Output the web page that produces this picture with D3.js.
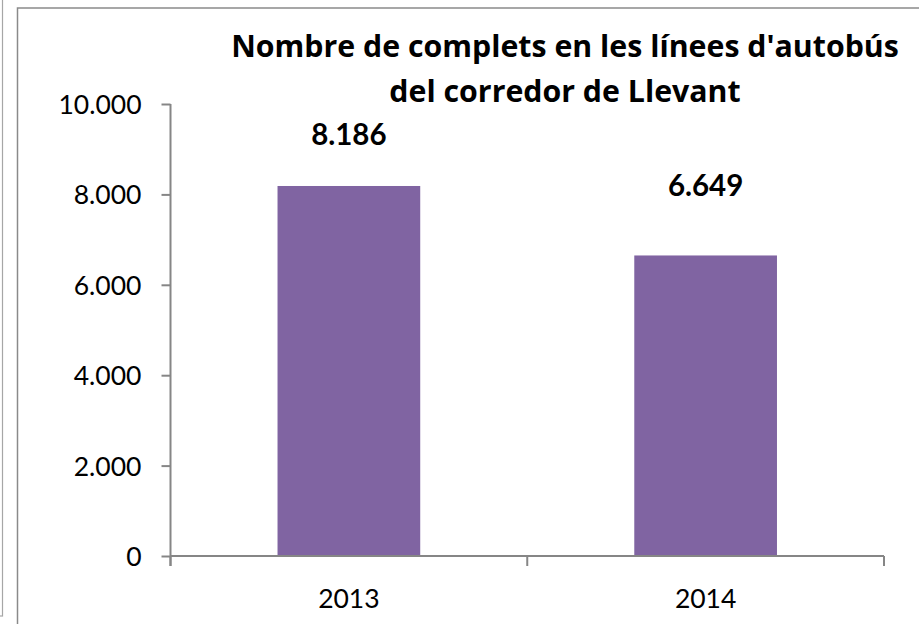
<!DOCTYPE html>
<html>
<head>
<meta charset="utf-8">
<script src="https://cdn.jsdelivr.net/npm/d3@7"></script>
<style>
  html, body { margin: 0; padding: 0; background: #fff; }
  svg { display: block; font-family: Lato, 'Open Sans', sans-serif; }
</style>
</head>
<body>
<svg id="chart" width="919" height="624"></svg>
<script>
const years = ['2013', '2014'];
const complets = [8186, 6649];
const yTicks = [0, 2000, 4000, 6000, 8000, 10000];
const titleLines = ['Nombre de complets en les línees d\'autobús', 'del corredor de Llevant'];

const PLOT = {left: 170.5, right: 884, top: 104, bottom: 556};
const AXIS_COLOR = '#868686';
const BAR_COLOR = '#8064A2';

const fmt = v => d3.format(',')(v).replace(/,/g, '.');

const svg = d3.select('#chart');

// neighbouring chart frame peeking in at the left edge
svg.append('rect')
  .attr('x', -50).attr('y', -50)
  .attr('width', 52.5).attr('height', 666)
  .attr('fill', 'none')
  .attr('stroke', '#a6a6a6')
  .attr('stroke-width', 1.2);

// chart frame (runs off the right and bottom of the window)
svg.append('rect')
  .attr('x', 17.5).attr('y', 8)
  .attr('width', 960).attr('height', 660)
  .attr('fill', 'none')
  .attr('stroke', '#8a8a8a')
  .attr('stroke-width', 1.5);

const x = d3.scaleBand()
  .domain(years)
  .range([PLOT.left, PLOT.right])
  .paddingInner(0.6)
  .paddingOuter(0.3);

const xEdge = d3.scaleBand()
  .domain(years)
  .range([PLOT.left, PLOT.right]);

const y = d3.scaleLinear()
  .domain([0, 10000])
  .range([PLOT.bottom, PLOT.top]);

// bars
svg.append('g')
  .selectAll('rect')
  .data(years)
  .enter().append('rect')
    .attr('x', (d) => x(d))
    .attr('width', x.bandwidth())
    .attr('y', (d, i) => y(complets[i]))
    .attr('height', (d, i) => y(0) - y(complets[i]))
    .attr('fill', BAR_COLOR);

// y axis
const yAxis = svg.append('g')
  .attr('transform', `translate(${PLOT.left}, 0)`)
  .call(d3.axisLeft(y).tickValues(yTicks).tickFormat(fmt).tickSize(9).tickPadding(20));

// x axis, ticks at category boundaries
const xAxisG = svg.append('g')
  .attr('transform', `translate(0, ${PLOT.bottom})`);

xAxisG.append('path')
  .attr('d', `M${PLOT.left},0H${PLOT.right}`);

xAxisG.selectAll('.edge')
  .data([...years.map(d => xEdge(d)), PLOT.right])
  .enter().append('line')
    .attr('class', 'edge')
    .attr('x1', d => d).attr('x2', d => d)
    .attr('y1', 0).attr('y2', 10);

xAxisG.selectAll('.lbl')
  .data(years)
  .enter().append('text')
    .attr('class', 'lbl')
    .attr('x', d => xEdge(d) + xEdge.bandwidth() / 2)
    .attr('y', 52)
    .attr('text-anchor', 'middle')
    .text(d => d);

svg.selectAll('.domain, line, path')
  .attr('stroke', AXIS_COLOR)
  .attr('stroke-width', 2)
  .attr('fill', 'none');

yAxis.select('.domain').attr('d', `M0,${PLOT.top}V${PLOT.bottom + 10}`);

svg.selectAll('.tick text, .lbl')
  .attr('fill', '#000')
  .style('font-size', '26.5px')
  .style('font-family', 'Lato, sans-serif');

yAxis.selectAll('.tick text').attr('dy', '0.36em');

// value labels
svg.append('g')
  .selectAll('text')
  .data(years)
  .enter().append('text')
    .attr('x', d => x(d) + x.bandwidth() / 2)
    .attr('y', (d, i) => Math.max(y(complets[i]) - 59, 145))
    .attr('text-anchor', 'middle')
    .style('font-size', '29.5px')
    .style('font-weight', 'bold')
    .text((d, i) => fmt(complets[i]));

// title
svg.append('text')
  .attr('text-anchor', 'middle')
  .style('font-family', '"Open Sans", sans-serif')
  .style('font-size', '30.3px')
  .style('font-weight', 'bold')
  .selectAll('tspan')
  .data(titleLines)
  .enter().append('tspan')
    .attr('x', 565)
    .attr('y', (d, i) => 57 + i * 45)
    .text(d => d);
</script>
</body>
</html>
